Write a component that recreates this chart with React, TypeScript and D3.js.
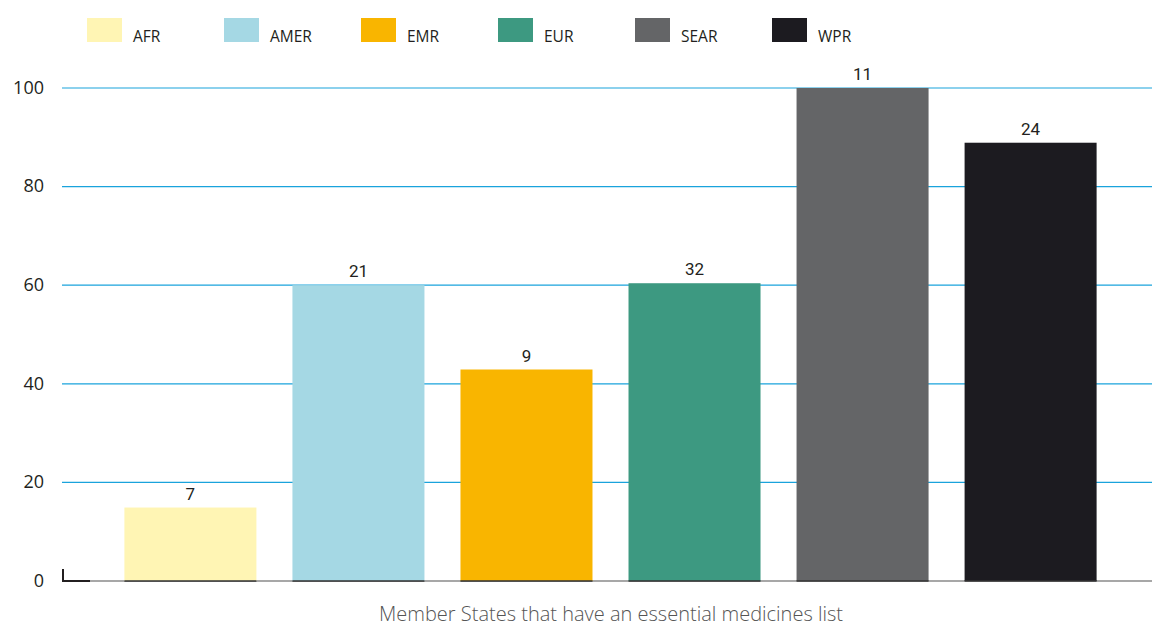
import React from "react";
import * as d3 from "d3";

const regions = ["AFR", "AMER", "EMR", "EUR", "SEAR", "WPR"];
const percentages = [14.9, 60, 42.9, 60.4, 100, 88.9];
const counts = [7, 21, 9, 32, 11, 24];
const colors = ["#FFF5B4", "#A5D8E4", "#F9B500", "#3D9981", "#646567", "#1C1B20"];
const yTicks = [0, 20, 40, 60, 80, 100];
const xTitle = "Member States that have an essential medicines list";

const W = 1152;
const H = 626;

export default function App() {
  const y = d3.scaleLinear().domain([0, 100]).range([581, 88]);
  const x = d3.scaleBand<string>().domain(regions).range([124.4, 1096.6]).paddingInner(0.2144).paddingOuter(0);
  const legendX = d3.scaleBand<string>().domain(regions).range([87, 87 + 137 * regions.length]);
  const base = y(0);

  return (
    <svg width={W} height={H} style={{ position: "absolute", left: 0, top: 0, background: "#fff" }}>
      {/* legend */}
      {regions.map((r, i) => (
        <g key={r} transform={`translate(${legendX(r)},18)`}>
          <rect width={35} height={24} fill={colors[i]} />
          <text x={46} y={24} fontFamily="'Open Sans', sans-serif" fontSize={15.5} fill="#231f20">
            {r}
          </text>
        </g>
      ))}

      {/* grid lines and y labels */}
      {yTicks.map((t) => (
        <g key={t}>
          {t > 0 && (
            <line x1={62} x2={W} y1={y(t)} y2={y(t)} stroke="#1AA3DC" strokeWidth={1.2} />
          )}
          <text
            x={44}
            y={y(t)}
            dy="0.32em"
            textAnchor="end"
            fontFamily="'Open Sans', sans-serif"
            fontSize={18}
            fill="#231f20"
          >
            {t}
          </text>
        </g>
      ))}

      {/* baseline */}
      <line x1={62} x2={W} y1={base} y2={base} stroke="#8a8a8a" strokeWidth={1.5} />
      <path d={`M${63},${base - 12} V${base} H${90}`} fill="none" stroke="#231f20" strokeWidth={2} />

      {/* bars */}
      {regions.map((r, i) => (
        <g key={r}>
          <rect
            x={x(r)}
            y={y(percentages[i])}
            width={x.bandwidth()}
            height={base - y(percentages[i])}
            fill={colors[i]}
          />
          <line x1={x(r)} x2={(x(r) as number) + x.bandwidth()} y1={base} y2={base} stroke="#333" strokeWidth={1.5} />
          <text
            x={(x(r) as number) + x.bandwidth() / 2}
            y={y(percentages[i]) - 8}
            textAnchor="middle"
            fontFamily="Roboto, 'Open Sans', sans-serif"
            fontSize={17}
            fill="#231f20"
          >
            {counts[i]}
          </text>
        </g>
      ))}

      {/* x axis title */}
      <text
        x={611}
        y={621}
        textAnchor="middle"
        fontFamily="'Open Sans', sans-serif"
        fontWeight={300}
        fontSize={20}
        fill="#555"
      >
        {xTitle}
      </text>
    </svg>
  );
}
